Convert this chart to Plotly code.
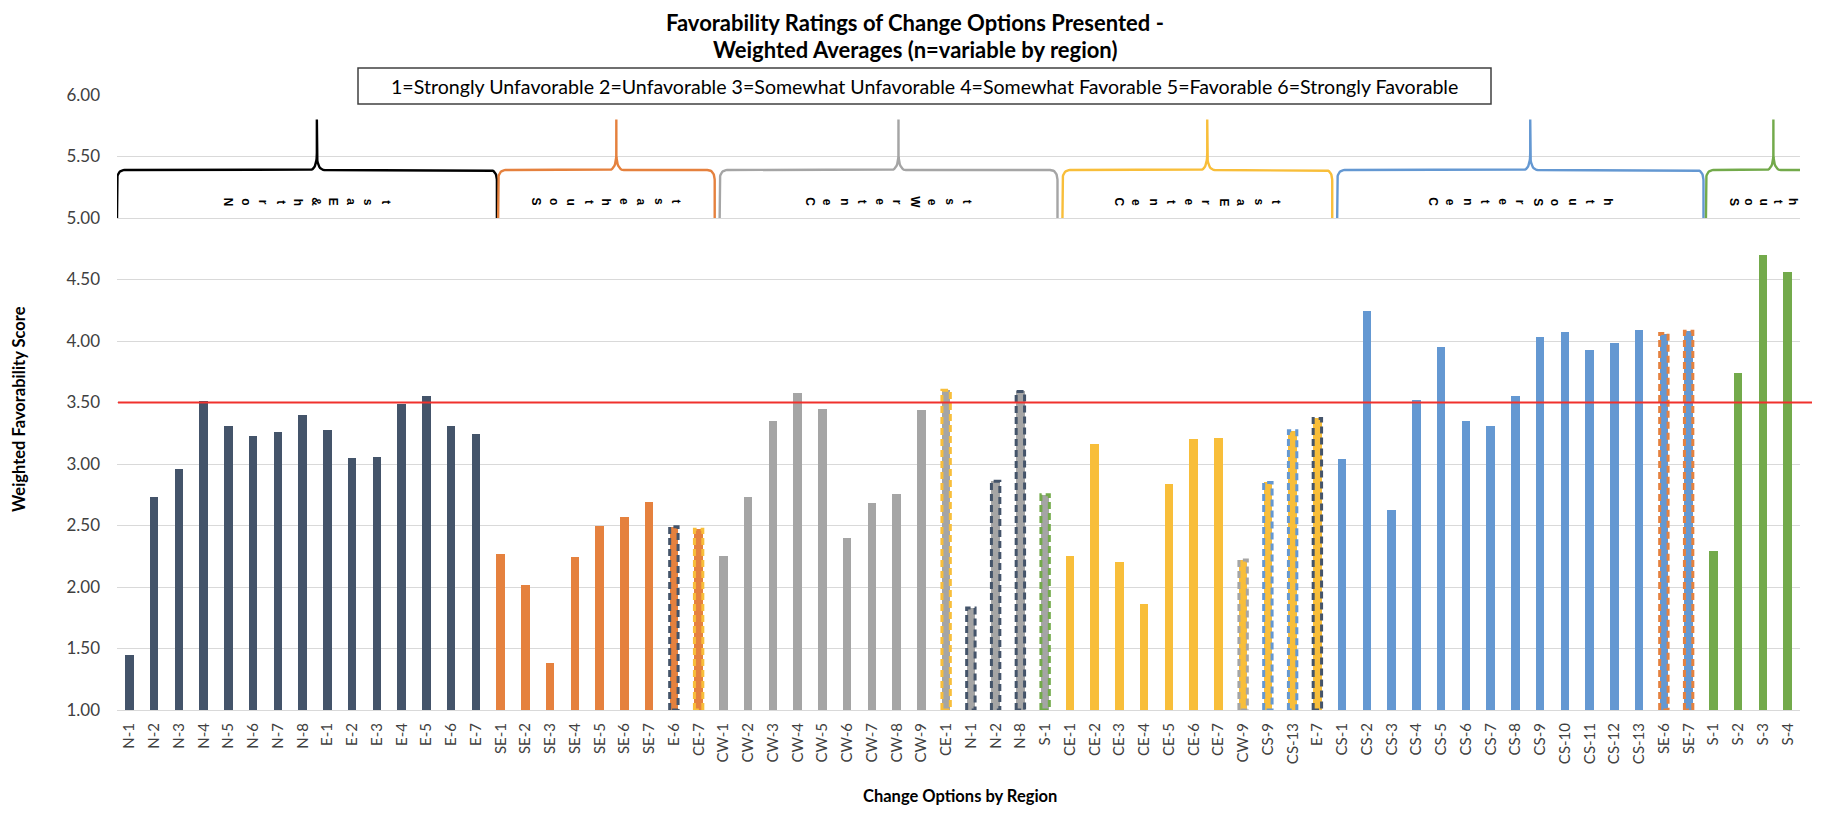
import plotly.graph_objects as go

# ---------------- data ----------------
region_names = ["North&East", "Southeast", "CenterWest", "CenterEast", "CenterSouth", "South"]

ne_labels = ["N-1", "N-2", "N-3", "N-4", "N-5", "N-6", "N-7", "N-8",
             "E-1", "E-2", "E-3", "E-4", "E-5", "E-6", "E-7"]
ne_values = [1.45, 2.73, 2.96, 3.51, 3.31, 3.23, 3.26, 3.40,
             3.28, 3.05, 3.06, 3.49, 3.55, 3.31, 3.24]

se_labels = ["SE-1", "SE-2", "SE-3", "SE-4", "SE-5", "SE-6", "SE-7", "E-6", "CE-7"]
se_values = [2.27, 2.02, 1.38, 2.24, 2.50, 2.57, 2.69, 2.49, 2.47]

cw_labels = ["CW-1", "CW-2", "CW-3", "CW-4", "CW-5", "CW-6", "CW-7", "CW-8", "CW-9",
             "CE-1", "N-1", "N-2", "N-8", "S-1"]
cw_values = [2.25, 2.73, 3.35, 3.58, 3.45, 2.40, 2.68, 2.76, 3.44,
             3.60, 1.83, 2.86, 3.59, 2.75]

ce_labels = ["CE-1", "CE-2", "CE-3", "CE-4", "CE-5", "CE-6", "CE-7",
             "CW-9", "CS-9", "CS-13", "E-7"]
ce_values = [2.25, 3.16, 2.20, 1.86, 2.84, 3.20, 3.21,
             2.22, 2.85, 3.27, 3.37]

cs_labels = ["CS-1", "CS-2", "CS-3", "CS-4", "CS-5", "CS-6", "CS-7", "CS-8", "CS-9",
             "CS-10", "CS-11", "CS-12", "CS-13", "SE-6", "SE-7"]
cs_values = [3.04, 4.24, 2.63, 3.52, 3.95, 3.35, 3.31, 3.55, 4.03,
             4.07, 3.93, 3.98, 4.09, 4.06, 4.08]

s_labels = ["S-1", "S-2", "S-3", "S-4"]
s_values = [2.29, 3.74, 4.70, 4.56]

benchmark = 3.5

title_line1 = "Favorability Ratings of Change Options Presented -"
title_line2 = "Weighted Averages (n=variable by region)"
scale_text = ("1=Strongly Unfavorable 2=Unfavorable 3=Somewhat Unfavorable "
              "4=Somewhat Favorable 5=Favorable 6=Strongly Favorable")
y_title = "Weighted Favorability Score"
x_title = "Change Options by Region"

# ---------------- styling ----------------
region_colors = {
    "North&East": "#44546A",
    "Southeast": "#E5813E",
    "CenterWest": "#A5A5A5",
    "CenterEast": "#F8BE3A",
    "CenterSouth": "#6498D2",
    "South": "#73AA4B",
}
brace_colors = dict(region_colors)
brace_colors["North&East"] = "#000000"
prefix_region = {"N": "North&East", "E": "North&East", "SE": "Southeast",
                 "CW": "CenterWest", "CE": "CenterEast", "CS": "CenterSouth", "S": "South"}

groups = [
    ("North&East", ne_labels, ne_values),
    ("Southeast", se_labels, se_values),
    ("CenterWest", cw_labels, cw_values),
    ("CenterEast", ce_labels, ce_values),
    ("CenterSouth", cs_labels, cs_values),
    ("South", s_labels, s_values),
]

# page geometry (pixels in the browser window); the page body has an 8px margin
OFF = 8
W, H = 1831 - 2 * OFF, 816 - 2 * OFF
PL, PR, PT, PB = 117, 1800, 95, 710          # plot area in window pixels
FONT = "Lato"
TXT = "#404040"


def px_x(px):
    return (px - PL) / (PR - PL)


def px_y(py):
    return (PB - py) / (PB - PT)


BAR_W = 0.34

fig = go.Figure()

all_labels, all_vals, all_cols = [], [], []
group_spans = []
idx = 0
for name, labs, vals in groups:
    start = idx
    for lab, v in zip(labs, vals):
        all_labels.append(lab)
        all_vals.append(v)
        all_cols.append(region_colors[name])
        idx += 1
    group_spans.append((name, start, idx - 1))

xs = list(range(len(all_labels)))

fig.add_trace(go.Bar(x=xs, y=all_vals, marker=dict(color=all_cols, line=dict(width=0)),
                     width=BAR_W, showlegend=False, hoverinfo="x+y"))

# dashed outlines for options borrowed from another region
for name, start, end in group_spans:
    for i in range(start, end + 1):
        lab = all_labels[i]
        origin = prefix_region[lab.split("-")[0]]
        if origin != name:
            v = all_vals[i]
            x0, x1 = i - BAR_W / 2, i + BAR_W / 2
            fig.add_trace(go.Scatter(
                x=[x0, x0, x1, x1, x0], y=[1, v, v, 1, 1], mode="lines",
                line=dict(color=region_colors[origin], width=3, dash="7px,4px"),
                showlegend=False, hoverinfo="skip"))

# braces over each region
pad_l = [0.0, 0.4, 0.35, 0.2, 0.3, 0.2]
pad_r = [0.35, 0.15, 0.0, 0.1, 0.1, 0.85]
BR_BOT, BR_H, BR_PEAK = 5.0, 5.39, 5.80
RX, RY = 0.3, 0.09


def quad(p0, p1, p2, n=12):
    pts = []
    for k in range(1, n + 1):
        t = k / n
        x = (1 - t) ** 2 * p0[0] + 2 * (1 - t) * t * p1[0] + t ** 2 * p2[0]
        y = (1 - t) ** 2 * p0[1] + 2 * (1 - t) * t * p1[1] + t ** 2 * p2[1]
        pts.append((x, y))
    return pts


for k, (name, start, end) in enumerate(group_spans):
    x0 = start - 0.5 + pad_l[k]
    x1 = end + 0.5 + pad_r[k]
    xm = (x0 + x1) / 2
    xc = xm + 0.4
    pts = [(x0, BR_BOT), (x0, BR_H - RY)]
    pts += quad((x0, BR_H - RY), (x0, BR_H), (x0 + RX, BR_H))
    pts.append((xc - RX, BR_H))
    pts += quad((xc - RX, BR_H), (xc, BR_H), (xc, BR_H + 0.14))
    pts.append((xc, BR_PEAK))
    pts.append((xc, BR_H + 0.14))
    pts += quad((xc, BR_H + 0.14), (xc, BR_H), (xc + RX, BR_H))
    pts.append((x1 - RX, BR_H))
    pts += quad((x1 - RX, BR_H), (x1, BR_H), (x1, BR_H - RY))
    pts.append((x1, BR_BOT))
    fig.add_trace(go.Scatter(x=[p[0] for p in pts], y=[p[1] for p in pts], mode="lines",
                             line=dict(color=brace_colors[name], width=2.4, shape="linear"),
                             cliponaxis=False, showlegend=False, hoverinfo="skip"))
    # rotated letters of region name
    letters = list(name)
    spacing = 14.75 if name == "South" else 17.5
    n = len(letters)
    for j, ch in enumerate(letters):
        fig.add_annotation(x=xm, y=5.13, xref="x", yref="y", text="<b>" + ch + "</b>",
                           showarrow=False, textangle=90,
                           xshift=(j - (n - 1) / 2) * spacing,
                           font=dict(family="Liberation Sans", size=12, color="#000000"))

# benchmark line
fig.add_shape(type="line", xref="paper", yref="y", x0=px_x(118), x1=px_x(1812),
              y0=benchmark, y1=benchmark, line=dict(color="#F0312C", width=2))

# scale description box
fig.add_shape(type="rect", xref="paper", yref="paper", x0=px_x(358), x1=px_x(1491),
              y0=px_y(104), y1=px_y(68), line=dict(color="#404040", width=1.5),
              fillcolor="white", layer="above")


def text_at(px, py, txt, size, angle=0):
    fig.add_annotation(xref="paper", yref="paper", x=px_x(px), y=px_y(py), text=txt,
                       xanchor="center", yanchor="middle", textangle=angle,
                       showarrow=False, font=dict(family=FONT, size=size, color="#000000"))


text_at(924.5, 86, scale_text, 19.6)
text_at(915, 22, "<b>" + title_line1 + "</b>", 22)
text_at(915, 49, "<b>" + title_line2 + "</b>", 22)
text_at(19, 409, "<b>" + y_title + "</b>", 16.5, -90)
text_at(960, 796, "<b>" + x_title + "</b>", 16.5)

fig.update_layout(
    width=W, height=H,
    margin=dict(l=PL - OFF, r=W - (PR - OFF), t=PT - OFF, b=H - (PB - OFF), autoexpand=False),
    paper_bgcolor="white", plot_bgcolor="white",
    showlegend=False, bargap=0,
    xaxis=dict(range=[-0.5, len(all_labels) - 0.5], tickmode="array", tickvals=xs,
               ticktext=all_labels, tickangle=-90, showgrid=False, zeroline=False,
               showline=True, linecolor="#D9D9D9", linewidth=1, ticks="",
               ticklabelstandoff=6,
               tickfont=dict(family=FONT, size=15, color=TXT)),
    yaxis=dict(range=[1, 6], dtick=0.5, tick0=1, tickformat=".2f", showgrid=True,
               gridcolor="#D9D9D9", gridwidth=1, zeroline=False, showline=False,
               ticks="", ticklabelstandoff=16,
               tickfont=dict(family=FONT, size=17, color=TXT)),
)

fig.write_html("out.html")
